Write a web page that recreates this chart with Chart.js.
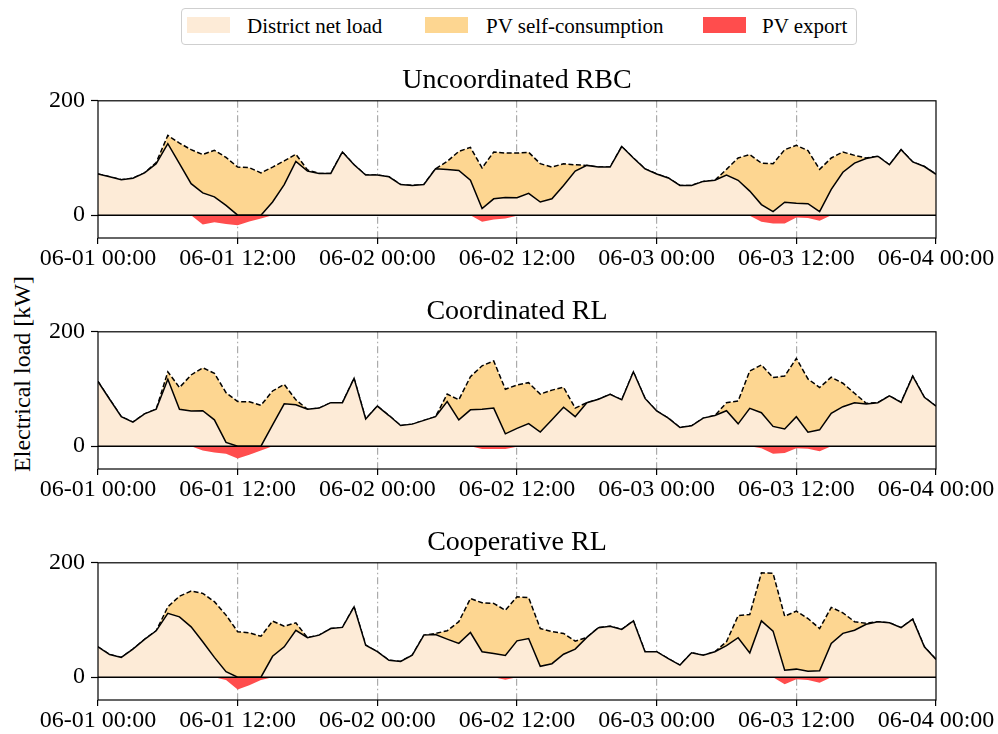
<!DOCTYPE html>
<html>
<head>
<meta charset="utf-8">
<script src="https://cdn.jsdelivr.net/npm/chart.js@4/dist/chart.umd.min.js"></script>
<style>
html,body{margin:0;padding:0;background:#fff;}
#fig{position:relative;width:998px;height:734px;overflow:hidden;background:#fff;font-family:'Liberation Serif','Times New Roman',serif;color:#000;}
canvas{position:absolute;left:0;}
.legend{position:absolute;left:181px;top:8px;width:674px;height:35px;border:1px solid #cfcfcf;border-radius:4px;background:#fff;}
.sw{position:absolute;top:8px;width:43px;height:16px;}
.lt{position:absolute;top:0;line-height:35px;font-size:21px;white-space:nowrap;}
#ylab{position:absolute;left:22px;top:374px;transform:translate(-50%,-50%) rotate(-90deg);font-size:24px;white-space:nowrap;}
</style>
</head>
<body>
<div id="fig">
  <div class="legend">
    <div class="sw" style="left:5px;background:#FDEBD7"></div><div class="lt" style="left:65px">District net load</div>
    <div class="sw" style="left:243px;background:#FDD691"></div><div class="lt" style="left:304px">PV self-consumption</div>
    <div class="sw" style="left:521px;background:#FF4D4D"></div><div class="lt" style="left:580px">PV export</div>
  </div>
  <div id="ylab">Electrical load [kW]</div>
  <canvas id="c1" width="998" height="228" style="top:50px"></canvas>
  <canvas id="c2" width="998" height="228" style="top:281px"></canvas>
  <canvas id="c3" width="998" height="228" style="top:512px"></canvas>
</div>
<script>
// ---------- data ----------
const hours = [0,1,2,3,4,5,6,7,8,9,10,11,12,13,14,15,16,17,18,19,20,21,22,23,24,25,26,27,28,29,30,31,32,33,34,35,36,37,38,39,40,41,42,43,44,45,46,47,48,49,50,51,52,53,54,55,56,57,58,59,60,61,62,63,64,65,66,67,68,69,70,71,72];
const xTickHours = [0, 12, 24, 36, 48, 60, 72];
const xTickLabels = ['06-01 00:00','06-01 12:00','06-02 00:00','06-02 12:00','06-03 00:00','06-03 12:00','06-04 00:00'];
const yTickValues = [0, 200];
const panelTitles = ['Uncoordinated RBC', 'Coordinated RL', 'Cooperative RL'];
const seriesNames = ['District net load', 'PV self-consumption', 'PV export'];

// Uncoordinated RBC
const rbcNetLoad = [72,67,62,64.5,74,90,125,90,55,39,32,17,0,0,0,23,53.5,94,77,73,73,110.5,88,70,70,67,53.5,52,53.5,81,80,78,61,11.5,28.5,31,30.5,38,23,28.5,52,77,87,84,84,120,100,81,72,65,52,52,59,61,70,61,42,18.5,6,22.5,21,20,6,45,75,91,99,103,88,114.5,93,85,71.5];
const rbcGrossLoad = [72,67,62,64.5,74,92,139.5,126,114.5,106,113.5,101,84,83,74,84,95,106.5,79,73,73,110.5,88,70,70,67,53.5,52,53.5,81,94,111.5,118.5,82.5,110.5,108.5,108.5,110,90,84,90,88,87,84,84,120,100,81,72,65,52,52,59,61,80,100,106,91,90,114.5,122,113,80,100,110.5,104.5,100,103,88,114.5,93,85,71.5];
const rbcExport = [0,0,0,0,0,0,0,0,0,-16.5,-12.5,-15.5,-17.5,-11,-6,0,0,0,0,0,0,0,0,0,0,0,0,0,0,0,0,0,0,-11.5,-7.5,-6,-1,0,0,0,0,0,0,0,0,0,0,0,0,0,0,0,0,0,0,0,-1,-11.5,-14.5,-14.5,-4,-5,-10,0,0,0,0,0,0,0,0,0,0];

// Coordinated RL
const coordNetLoad = [113,82,51.5,42,56.5,64.5,117,64.5,61.5,62,46,6.5,0,0,0,37,74,72.5,64.5,66.5,76,76,118.5,47.5,70,53.5,36,38.5,45,51.5,78,46,63.5,64.5,66.5,21.5,31,39.5,24.5,46,68,51.5,76,82,90.5,81,130,83.5,61.5,49,32.5,35.5,49,53.5,62,39,66,58.5,34.5,30,51.5,24.5,28.5,57.5,69,76,73.5,76,88,76.5,122.5,85.5,70];
const coordGrossLoad = [113,82,51.5,42,56.5,64.5,130,102.5,124.5,137,127.5,93.5,78,77.5,71.5,96.5,108,81,64.5,66.5,76,76,118.5,47.5,70,53.5,36,38.5,45,51.5,91,81,121.5,140.5,149,99.5,107,111,91,98,103,66.5,76,82,90.5,81,130,83.5,61.5,49,32.5,35.5,49,53.5,76,79,131.5,142,120,122.5,153.5,117.5,102.5,120.5,110,92.5,75,76,88,76.5,122.5,85.5,70];
const coordExport = [0,0,0,0,0,0,0,0,0,-7.5,-11,-13.5,-21.5,-15,-7.5,0,0,0,0,0,0,0,0,0,0,0,0,0,0,0,0,0,0,-5,-5,-5,-1,0,0,0,0,0,0,0,0,0,0,0,0,0,0,0,0,0,0,0,0,-3.5,-13.5,-12,-3.5,-4.5,-9,0,0,0,0,0,0,0,0,0,0];

// Cooperative RL
const coopNetLoad = [53,39.5,34.5,49,66,81,111.5,105.5,88,62,34.5,9.5,0,0,0,36.5,53,82,69,73.5,85,87,123,56,44.5,29.5,27.5,38.5,73.5,74.5,66.5,59,78,44.5,41.5,38,63.5,67.5,19,23.5,40,49,69.5,86.5,89,83.5,98.5,44.5,44.5,32.5,21,42.5,38.5,44.5,55,69,42.5,98.5,80.5,12,14,10.5,11,59,76.5,82,92.5,97,95,86.5,101.5,53,31];
const coopGrossLoad = [53,39.5,34.5,49,66,81,123,141.5,150.5,146.5,132,108.5,79.5,77.5,71.5,98,89,95,69,73.5,85,87,123,56,44.5,29.5,27.5,38.5,73.5,76.5,81,97,137.5,130,129,117,140.5,139,85,79.5,76.5,63,69.5,86.5,89,83.5,98.5,44.5,44.5,32.5,21,42.5,38.5,44.5,62,107.5,109.5,182.5,181.5,106.5,115.5,102.5,85,122,112.5,97,94,97,95,86.5,101.5,53,31];
const coopExport = [0,0,0,0,0,0,0,0,0,0,0,-5,-21.5,-14,-5,0,0,0,0,0,0,0,0,0,0,0,0,0,0,0,0,0,0,0,0,-4.5,0,0,0,0,0,0,0,0,0,0,0,0,0,0,0,0,0,0,0,0,0,-1,0,-12.5,-3.5,-5,-10,0,0,0,0,0,0,0,0,0,0];

// ---------- styles ----------
const FONT = "'Liberation Serif','Times New Roman',serif";
const PEACH = '#FDEBD7', ORANGE = '#FDD691', RED = '#FF4D4D';

const framePlugin = {
  id: 'frame',
  afterDatasetsDraw(chart) {
    const {ctx, chartArea: a, scales} = chart;
    const y0 = scales.y.getPixelForValue(0);
    ctx.save();
    ctx.strokeStyle = '#000'; ctx.lineWidth = 1.5;
    ctx.beginPath(); ctx.moveTo(a.left, y0); ctx.lineTo(a.right, y0); ctx.stroke();
    ctx.restore();
  },
  afterDraw(chart) {
    const {ctx, chartArea: a} = chart;
    ctx.save();
    ctx.strokeStyle = '#000'; ctx.lineWidth = 1.2;
    ctx.strokeRect(a.left, a.top, a.right - a.left, a.bottom - a.top);
    ctx.restore();
  }
};

function makeChart(id, title, net, gross, exp) {
  return new Chart(document.getElementById(id), {
    type: 'line',
    data: {
      labels: hours,
      datasets: [
        {label: seriesNames[0], data: net, borderColor: '#000', borderWidth: 1.5, backgroundColor: PEACH, fill: 'origin', pointRadius: 0, tension: 0},
        {label: seriesNames[1], data: gross, borderColor: '#000', borderWidth: 1.5, borderDash: [5, 2.5], backgroundColor: ORANGE, fill: {target: 0, above: ORANGE, below: ORANGE}, pointRadius: 0, tension: 0},
        {label: seriesNames[2], data: exp, borderColor: 'rgba(0,0,0,0)', borderWidth: 0, backgroundColor: RED, fill: 'origin', pointRadius: 0, tension: 0}
      ]
    },
    options: {
      responsive: false, animation: false, devicePixelRatio: 1,
      events: [],
      layout: {padding: {top: 14, left: 0, right: 62, bottom: 0}},
      plugins: {
        legend: {display: false},
        tooltip: {enabled: false},
        title: {display: true, fullSize: false, text: title, color: '#000', font: {family: FONT, size: 28, weight: 'normal'}, padding: {top: 0, bottom: 3.2}}
      },
      scales: {
        x: {
          type: 'linear', min: 0, max: 72, z: 1,
          afterBuildTicks: s => { s.ticks = xTickHours.map(v => ({value: v})); },
          afterFit: s => { s.height = 40; },
          ticks: {autoSkip: false, maxRotation: 0, color: '#000', padding: 0, font: {family: FONT, size: 24},
                  callback: v => xTickLabels[xTickHours.indexOf(v)]},
          grid: {color: c => (c.tick && c.tick.value > 0 && c.tick.value < 72) ? '#ababab' : 'rgba(0,0,0,0)',
                 lineWidth: 1.2, drawTicks: true, tickLength: 6, tickColor: '#000', tickWidth: 1.2, tickBorderDash: [], borderDash: [7, 3, 1.5, 3]},
          border: {display: false, dash: [7, 3, 1.5, 3]}
        },
        y: {
          min: -40, max: 200,
          afterBuildTicks: s => { s.ticks = yTickValues.map(v => ({value: v})); },
          afterFit: s => { s.width = 98; },
          ticks: {color: '#000', padding: 6, font: {family: FONT, size: 24}},
          grid: {drawOnChartArea: false, drawTicks: true, tickLength: 7, tickColor: '#000', tickWidth: 1.2, color: '#000'},
          border: {display: false}
        }
      }
    },
    plugins: [framePlugin]
  });
}

makeChart('c1', panelTitles[0], rbcNetLoad, rbcGrossLoad, rbcExport);
makeChart('c2', panelTitles[1], coordNetLoad, coordGrossLoad, coordExport);
makeChart('c3', panelTitles[2], coopNetLoad, coopGrossLoad, coopExport);
</script>
</body>
</html>
